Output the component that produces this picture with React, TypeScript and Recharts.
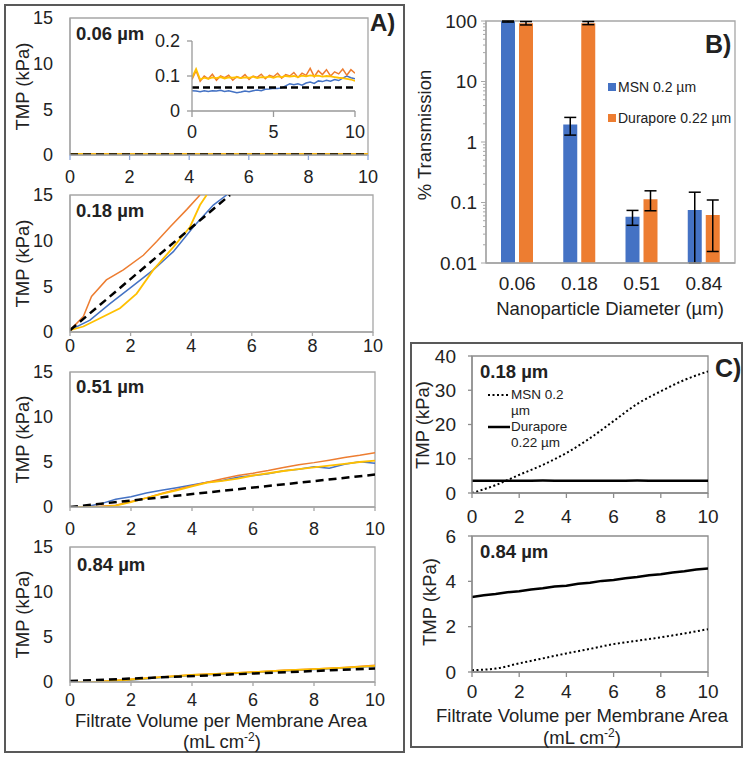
import React from 'react';
import { LineChart, Line, XAxis, YAxis, ReferenceArea, BarChart, Bar, ErrorBar, Legend } from 'recharts';

const FONT = '"Liberation Sans", Arial, Helvetica, sans-serif';
const TEXT = '#222';
const BLUE = '#4472C4';
const ORANGE = '#ED7D31';
const YELLOW = '#FFC000';
const AXIS_A = '#A6A6A6';
const AXIS_C = '#8C8C8C';

// ---------- Panel A: 0.06 um (main plot + inset share the same runs) ----------
const insetVol = [0, 0.25, 0.5, 0.75, 1, 1.25, 1.5, 1.75, 2, 2.25, 2.5, 2.75, 3, 3.25, 3.5, 3.75, 4, 4.25, 4.5, 4.75, 5,
  5.25, 5.5, 5.75, 6, 6.25, 6.5, 6.75, 7, 7.25, 7.5, 7.75, 8, 8.25, 8.5, 8.75, 9, 9.25, 9.5, 9.75, 10];
const a006Blue = [0.058, 0.057, 0.055, 0.058, 0.056, 0.058, 0.057, 0.059, 0.056, 0.058, 0.055, 0.052, 0.054, 0.057, 0.055,
  0.058, 0.06, 0.058, 0.062, 0.063, 0.065, 0.064, 0.066, 0.072, 0.078, 0.075, 0.078, 0.074, 0.08, 0.083, 0.079, 0.086,
  0.084, 0.088, 0.085, 0.09, 0.087, 0.094, 0.1, 0.095, 0.092];
const a006Orange = [0.09, 0.115, 0.085, 0.1, 0.092, 0.105, 0.088, 0.1, 0.095, 0.102, 0.088, 0.098, 0.094, 0.104, 0.09,
  0.1, 0.096, 0.105, 0.092, 0.102, 0.098, 0.108, 0.094, 0.104, 0.1, 0.11, 0.096, 0.108, 0.102, 0.122, 0.098, 0.115,
  0.104, 0.118, 0.1, 0.112, 0.106, 0.12, 0.102, 0.118, 0.108];
const a006Yellow = [0.095, 0.12, 0.09, 0.095, 0.092, 0.096, 0.094, 0.097, 0.093, 0.096, 0.095, 0.097, 0.094, 0.096, 0.095,
  0.098, 0.094, 0.097, 0.096, 0.098, 0.095, 0.099, 0.097, 0.1, 0.098, 0.1, 0.097, 0.101, 0.099, 0.102, 0.1, 0.101,
  0.098, 0.1, 0.099, 0.097, 0.095, 0.094, 0.092, 0.09, 0.086];
const a006FitVol = [0, 10];
const a006Fit = [0.067, 0.067];

// ---------- Panel A: 0.18 um ----------
const a018BlueVol = [0, 0.66, 1.32, 1.98, 2.75, 3.41, 4.07, 4.73, 5.17];
const a018Blue = [0.2, 1.3, 3.1, 4.8, 6.8, 8.8, 11.5, 13.9, 15];
const a018OrangeVol = [0, 0.44, 0.71, 1.2, 1.76, 2.42, 2.86, 3.3, 3.85, 4.29];
const a018Orange = [0.2, 1.7, 3.9, 5.7, 6.8, 8.4, 9.9, 11.5, 13.4, 15];
const a018YellowVol = [0, 0.44, 0.99, 1.65, 2.2, 2.75, 3.41, 3.96, 4.29, 4.51];
const a018Yellow = [0.2, 0.6, 1.5, 2.6, 4.2, 6.8, 9.3, 11.5, 13.9, 15];
const a018FitVol = [0, 5.28];
const a018Fit = [0.2, 15];

// ---------- Panel A: 0.51 um ----------
const a051Vol = [0, 0.5, 1, 1.5, 2, 2.5, 3, 3.5, 4, 4.5, 5, 5.5, 6, 6.5, 7, 7.5, 8, 8.5, 9, 9.5, 10];
const a051Blue = [0, 0.02, 0.35, 0.85, 1.15, 1.55, 1.85, 2.15, 2.44, 2.74, 2.95, 3.3, 3.5, 3.7, 4.04, 4.2, 4.48, 4.3, 4.75, 5.04, 4.85];
const a051Orange = [0, 0, 0.08, 0.2, 0.6, 1.0, 1.5, 1.95, 2.35, 2.75, 3.15, 3.5, 3.75, 4.05, 4.4, 4.7, 4.93, 5.2, 5.5, 5.75, 6.04];
const a051Yellow = [0, 0, 0, 0.15, 0.55, 1.0, 1.45, 1.85, 2.3, 2.72, 2.9, 3.15, 3.5, 3.75, 4.0, 4.2, 4.4, 4.6, 4.8, 5.0, 5.15];
const a051FitVol = [0, 10];
const a051Fit = [0, 3.6];

// ---------- Panel A: 0.84 um ----------
const a084Vol = [0, 1, 2, 3, 4, 5, 6, 7, 8, 9, 10];
const a084Blue = [0, 0.03, 0.22, 0.5, 0.72, 0.9, 1.05, 1.22, 1.4, 1.55, 1.75];
const a084Orange = [0, 0.05, 0.3, 0.55, 0.8, 0.95, 1.1, 1.3, 1.45, 1.62, 1.85];
const a084Yellow = [0, 0.04, 0.28, 0.55, 0.78, 0.93, 1.1, 1.28, 1.44, 1.6, 1.8];
const a084FitVol = [0, 10];
const a084Fit = [0.1, 1.5];

// ---------- Panel B: % transmission ----------
const sizes = ['0.06', '0.18', '0.51', '0.84'];
const msnMean = [99, 1.95, 0.058, 0.075];
const msnLow = [96, 1.3, 0.042, 0.01];
const msnHigh = [100, 2.55, 0.074, 0.148];
const duraMean = [92, 92, 0.113, 0.062];
const duraLow = [86, 87, 0.073, 0.0155];
const duraHigh = [98, 98, 0.156, 0.11];
const decadeTicks = [0.01, 0.1, 1, 10, 100];
const logTicks = [0.01, 0.02, 0.03, 0.04, 0.05, 0.06, 0.07, 0.08, 0.09, 0.1, 0.2, 0.3, 0.4, 0.5, 0.6, 0.7, 0.8, 0.9,
  1, 2, 3, 4, 5, 6, 7, 8, 9, 10, 20, 30, 40, 50, 60, 70, 80, 90, 100];
const barSeries = [
  { key: 'msn', name: 'MSN 0.2 µm', color: BLUE },
  { key: 'dura', name: 'Durapore 0.22 µm', color: ORANGE },
];

// ---------- Panel C ----------
const c018Vol = [0, 1, 2, 3, 4, 5, 6, 7, 8, 9, 10];
const c018Msn = [0, 2.3, 5.3, 8.2, 11.7, 16, 21, 26, 29.7, 33, 35.5];
const c018Dura = [3.55, 3.6, 3.6, 3.62, 3.6, 3.6, 3.6, 3.62, 3.6, 3.6, 3.6];
const c084MsnVol = [0, 1, 2, 3, 4, 5, 6, 7, 8, 9, 10];
const c084Msn = [0.08, 0.15, 0.38, 0.6, 0.82, 1.02, 1.23, 1.38, 1.53, 1.7, 1.89];
const c084DuraVol = [0, 0.5, 1, 1.5, 2, 2.5, 3, 3.5, 4, 4.5, 5, 5.5, 6, 6.5, 7, 7.5, 8, 8.5, 9, 9.5, 10];
const c084Dura = [3.31, 3.39, 3.44, 3.52, 3.56, 3.64, 3.69, 3.77, 3.81, 3.89, 3.94, 4.02, 4.06, 4.14, 4.19, 4.27, 4.31,
  4.39, 4.44, 4.52, 4.57];

type Trace = { name: string; vol: number[]; tmp: number[]; color: string; width: number; dash?: string; curve?: 'linear' | 'monotone' };

const pts = (vol: number[], tmp: number[]) => vol.map((v, i) => ({ vol: v, tmp: tmp[i] }));

const runs = (blueV: number[], blue: number[], orangeV: number[], orange: number[], yellowV: number[], yellow: number[],
  fitV: number[], fit: number[], dash = '8 5'): Trace[] => [
  { name: 'Run 1', vol: blueV, tmp: blue, color: BLUE, width: 1.5 },
  { name: 'Run 2', vol: orangeV, tmp: orange, color: ORANGE, width: 1.5 },
  { name: 'Run 3', vol: yellowV, tmp: yellow, color: YELLOW, width: 1.8 },
  { name: 'Model', vol: fitV, tmp: fit, color: '#000', width: 2.5, dash },
];

type TmpChartProps = {
  left: number;
  top: number;
  yAxisWidth: number;
  plotWidth: number;
  plotHeight: number;
  marginTop?: number;
  marginRight?: number;
  xAxisHeight?: number;
  xTicks: number[];
  yTicks: number[];
  traces: Trace[];
  xTickSize?: number;
  xTickMargin?: number;
  xTickColor?: string;
  yTickSize?: number;
  yTickMargin?: number;
  yTickLine?: boolean;
  axisColor?: string;
  box?: boolean;
  fontSize?: number;
  legend?: React.ReactNode;
};

function TmpChart(p: TmpChartProps) {
  const mt = p.marginTop ?? 12;
  const mr = p.marginRight ?? 16;
  const xh = p.xAxisHeight ?? 36;
  const axisColor = p.axisColor ?? AXIS_A;
  const xMax = p.xTicks[p.xTicks.length - 1];
  const yMax = p.yTicks[p.yTicks.length - 1];
  const tickFont = { fontSize: p.fontSize ?? 18, fill: TEXT };

  return (
    <div style={{ position: 'absolute', left: p.left, top: p.top }}>
      <LineChart
        width={p.yAxisWidth + p.plotWidth + mr}
        height={mt + p.plotHeight + xh}
        margin={{ top: mt, right: mr, left: 0, bottom: 0 }}
      >
        <XAxis
          dataKey="vol"
          type="number"
          domain={[0, xMax]}
          ticks={p.xTicks}
          interval={0}
          allowDataOverflow
          height={xh}
          tick={tickFont}
          tickSize={p.xTickSize ?? 4}
          tickMargin={p.xTickMargin ?? 10}
          axisLine={{ stroke: axisColor, strokeWidth: 1.3 }}
          tickLine={{ stroke: p.xTickColor ?? axisColor, strokeWidth: 1.3 }}
        />
        <YAxis
          type="number"
          domain={[0, yMax]}
          ticks={p.yTicks}
          interval={0}
          allowDataOverflow
          width={p.yAxisWidth}
          tick={tickFont}
          tickSize={p.yTickSize ?? 4}
          tickMargin={p.yTickMargin ?? 13}
          axisLine={{ stroke: axisColor, strokeWidth: 1.3 }}
          tickLine={{ stroke: p.yTickLine ? axisColor : 'none', strokeWidth: 1.3 }}
        />
        {p.box && (
          <ReferenceArea x1={0} x2={xMax} y1={0} y2={yMax} fill="none" stroke={axisColor} strokeWidth={1.3} ifOverflow="visible" />
        )}
        {p.traces.map((t) => (
          <Line
            key={t.name}
            name={t.name}
            data={pts(t.vol, t.tmp)}
            dataKey="tmp"
            type={t.curve ?? 'linear'}
            stroke={t.color}
            strokeWidth={t.width}
            strokeDasharray={t.dash}
            dot={false}
            activeDot={false}
            isAnimationActive={false}
          />
        ))}
        {p.legend}
      </LineChart>
    </div>
  );
}

function LogTick(props: any) {
  const { x, y, payload } = props;
  const major = decadeTicks.includes(payload.value);
  const axisX = x + 9;
  return (
    <g>
      <line x1={axisX - (major ? 5 : 3)} x2={axisX} y1={y} y2={y} stroke={AXIS_A} strokeWidth={1} />
      {major && (
        <text x={x} y={y} dy="0.355em" textAnchor="end" fontSize={19} fill={TEXT}>
          {payload.value}
        </text>
      )}
    </g>
  );
}

const barLegend = () => (
  <div style={{ fontSize: 14, color: TEXT }}>
    {barSeries.map((s) => (
      <div key={s.key} style={{ display: 'flex', alignItems: 'center', height: 31 }}>
        <span style={{ display: 'inline-block', width: 8, height: 8, background: s.color, marginRight: 2 }} />
        <span>{s.name}</span>
      </div>
    ))}
  </div>
);

const cLegendItems = [
  { lines: ['MSN 0.2', 'µm'], dash: '2 2.5', width: 2 },
  { lines: ['Durapore', '0.22 µm'], dash: undefined, width: 2.5 },
];

const cLegend = () => (
  <div style={{ fontSize: 13.5, color: TEXT, lineHeight: '16px' }}>
    {cLegendItems.map((it) => (
      <div key={it.lines[0]} style={{ display: 'flex', alignItems: 'flex-start' }}>
        <svg width={23} height={16} style={{ display: 'block' }}>
          <line x1={0} x2={22} y1={8} y2={8} stroke="#000" strokeWidth={it.width} strokeDasharray={it.dash} />
        </svg>
        <div>
          {it.lines.map((l) => (
            <div key={l}>{l}</div>
          ))}
        </div>
      </div>
    ))}
  </div>
);

function TransmissionChart() {
  const data = sizes.map((s, i) => ({
    size: s,
    msn: msnMean[i],
    msnErr: [msnMean[i] - msnLow[i], msnHigh[i] - msnMean[i]],
    dura: duraMean[i],
    duraErr: [duraMean[i] - duraLow[i], duraHigh[i] - duraMean[i]],
  }));
  return (
    <div style={{ position: 'absolute', left: 380, top: 0 }}>
      <BarChart width={370} height={293} data={data} margin={{ top: 21, right: 15, left: 0, bottom: 0 }} barGap={4} barSize={14}>
        <XAxis
          dataKey="size"
          height={30}
          tick={{ fontSize: 19, fill: TEXT }}
          tickLine={{ stroke: 'none' }}
          tickSize={6}
          tickMargin={8}
          axisLine={{ stroke: AXIS_A, strokeWidth: 1.3 }}
        />
        <YAxis
          scale="log"
          type="number"
          domain={[0.01, 100]}
          allowDataOverflow
          ticks={logTicks}
          interval={0}
          width={106}
          tick={<LogTick />}
          tickLine={false}
          tickSize={5}
          tickMargin={4}
          axisLine={{ stroke: AXIS_A, strokeWidth: 1.3 }}
        />
        <ReferenceArea y1={0.01} y2={100} fill="none" stroke={AXIS_A} strokeWidth={1.3} ifOverflow="visible" />
        <Bar dataKey="msn" name="MSN 0.2 µm" fill={BLUE} isAnimationActive={false}>
          <ErrorBar dataKey="msnErr" width={6} stroke="#000" strokeWidth={1.5} direction="y" />
        </Bar>
        <Bar dataKey="dura" name="Durapore 0.22 µm" fill={ORANGE} isAnimationActive={false}>
          <ErrorBar dataKey="duraErr" width={6} stroke="#000" strokeWidth={1.5} direction="y" />
        </Bar>
        <Legend
          layout="vertical"
          align="center"
          verticalAlign="middle"
          content={barLegend}
          wrapperStyle={{ left: 228, top: 71.5, width: 'auto' }}
        />
      </BarChart>
    </div>
  );
}

const titleFont = { fontSize: 18.5, fontWeight: 'bold' as const };

export default function App() {
  const a006 = runs(insetVol, a006Blue, insetVol, a006Orange, insetVol, a006Yellow, a006FitVol, a006Fit);
  const a006Inset = runs(insetVol, a006Blue, insetVol, a006Orange, insetVol, a006Yellow, a006FitVol, a006Fit, '7 4');
  const a018 = runs(a018BlueVol, a018Blue, a018OrangeVol, a018Orange, a018YellowVol, a018Yellow, a018FitVol, a018Fit);
  const a051 = runs(a051Vol, a051Blue, a051Vol, a051Orange, a051Vol, a051Yellow, a051FitVol, a051Fit);
  const a084 = runs(a084Vol, a084Blue, a084Vol, a084Orange, a084Vol, a084Yellow, a084FitVol, a084Fit);

  const c018: Trace[] = [
    { name: 'MSN 0.2 µm', vol: c018Vol, tmp: c018Msn, color: '#000', width: 2, dash: '2 2.5', curve: 'monotone' },
    { name: 'Durapore 0.22 µm', vol: c018Vol, tmp: c018Dura, color: '#000', width: 2.5, curve: 'monotone' },
  ];
  const c084: Trace[] = [
    { name: 'MSN 0.2 µm', vol: c084MsnVol, tmp: c084Msn, color: '#000', width: 2, dash: '2 2.5', curve: 'monotone' },
    { name: 'Durapore 0.22 µm', vol: c084DuraVol, tmp: c084Dura, color: '#000', width: 2.5 },
  ];

  const aX = [0, 2, 4, 6, 8, 10];

  return (
    <div style={{ position: 'absolute', left: 0, top: 0, width: 750, height: 758, background: '#fff', fontFamily: FONT }}>
      {/* panel frames */}
      <div style={{ position: 'absolute', left: 4, top: 4, width: 401, height: 749, border: '2px solid #595959', boxSizing: 'border-box' }} />
      <div style={{ position: 'absolute', left: 410, top: 342, width: 333, height: 406, border: '2px solid #595959', boxSizing: 'border-box' }} />

      {/* Panel A */}
      <TmpChart left={0} top={6} yAxisWidth={70} plotWidth={298} plotHeight={137} xTicks={aX} yTicks={[0, 5, 10, 15]}
        traces={a006} box xTickSize={5} xTickMargin={10} xTickColor="#8FAADC" />
      <TmpChart left={140} top={31} yAxisWidth={52} plotWidth={163} plotHeight={70} marginTop={10} marginRight={15}
        xAxisHeight={30} xTicks={[0, 5, 10]} yTicks={[0, 0.1, 0.2]} traces={a006Inset} xTickSize={6} xTickMargin={8}
        yTickSize={5} yTickMargin={7} yTickLine axisColor="#999" />
      <TmpChart left={0} top={183} yAxisWidth={70} plotWidth={303} plotHeight={137} xTicks={aX} yTicks={[0, 5, 10, 15]}
        traces={a018} box xTickSize={4} xTickMargin={3} xAxisHeight={30} />
      <TmpChart left={0} top={360} yAxisWidth={70} plotWidth={305} plotHeight={135} xTicks={aX} yTicks={[0, 5, 10, 15]}
        traces={a051} box xTickSize={4} xTickMargin={11} />
      <TmpChart left={0} top={535} yAxisWidth={70} plotWidth={305} plotHeight={135} xTicks={aX} yTicks={[0, 5, 10, 15]}
        traces={a084} box xTickSize={4} xTickMargin={7} />

      {/* Panel B */}
      <TransmissionChart />

      {/* Panel C */}
      <TmpChart left={412} top={344} yAxisWidth={60} plotWidth={236} plotHeight={137} marginRight={18} xTicks={aX}
        yTicks={[0, 10, 20, 30, 40]} traces={c018} box axisColor={AXIS_C} xTickSize={5} xTickMargin={12} yTickSize={4}
        yTickMargin={12} yTickLine fontSize={19}
        legend={<Legend layout="vertical" align="center" verticalAlign="middle" content={cLegend}
          wrapperStyle={{ left: 76, top: 43, width: 'auto' }} />} />
      <TmpChart left={412} top={524} yAxisWidth={60} plotWidth={236} plotHeight={136} marginRight={18} xTicks={aX}
        yTicks={[0, 2, 4, 6]} traces={c084} box axisColor={AXIS_C} xTickSize={5} xTickMargin={8} yTickSize={4}
        yTickMargin={12} yTickLine fontSize={19} />

      {/* free text */}
      <svg width={750} height={758} style={{ position: 'absolute', left: 0, top: 0, pointerEvents: 'none' }} fill={TEXT}>
        <text x={370} y={31} fontSize={24} fontWeight="bold">A)</text>
        <text x={705} y={53} fontSize={25} fontWeight="bold">B)</text>
        <text x={715} y={377} fontSize={25} fontWeight="bold">C)</text>

        <text x={76} y={40} {...titleFont}>0.06 µm</text>
        <text x={76} y={217} {...titleFont}>0.18 µm</text>
        <text x={76} y={393} {...titleFont}>0.51 µm</text>
        <text x={77} y={571} {...titleFont}>0.84 µm</text>
        <text x={480} y={378} {...titleFont}>0.18 µm</text>
        <text x={480} y={558} {...titleFont}>0.84 µm</text>

        {[86.5, 263.5, 439.5, 614.5].map((cy) => (
          <text key={cy} x={29} y={cy} transform={`rotate(-90 29 ${cy})`} textAnchor="middle" fontSize={18.5}>TMP (kPa)</text>
        ))}
        <text x={429} y={425} transform="rotate(-90 429 425)" textAnchor="middle" fontSize={18.5}>TMP (kPa)</text>
        <text x={436} y={602} transform="rotate(-90 436 602)" textAnchor="middle" fontSize={18.5}>TMP (kPa)</text>
        <text x={431} y={135} transform="rotate(-90 431 135)" textAnchor="middle" fontSize={18.5}>% Transmission</text>

        <text x={610} y={315} textAnchor="middle" fontSize={18.5}>Nanoparticle Diameter (µm)</text>

        <text x={221} y={727} textAnchor="middle" fontSize={18.5}>Filtrate Volume per Membrane Area</text>
        <text x={222} y={748} textAnchor="middle" fontSize={18.5}>
          <tspan>(mL cm</tspan><tspan dy={-7} fontSize={12}>-2</tspan><tspan dy={7}>)</tspan>
        </text>
        <text x={582} y={722} textAnchor="middle" fontSize={18.5}>Filtrate Volume per Membrane Area</text>
        <text x={582} y={744} textAnchor="middle" fontSize={18.5}>
          <tspan>(mL cm</tspan><tspan dy={-7} fontSize={12}>-2</tspan><tspan dy={7}>)</tspan>
        </text>
      </svg>
    </div>
  );
}
